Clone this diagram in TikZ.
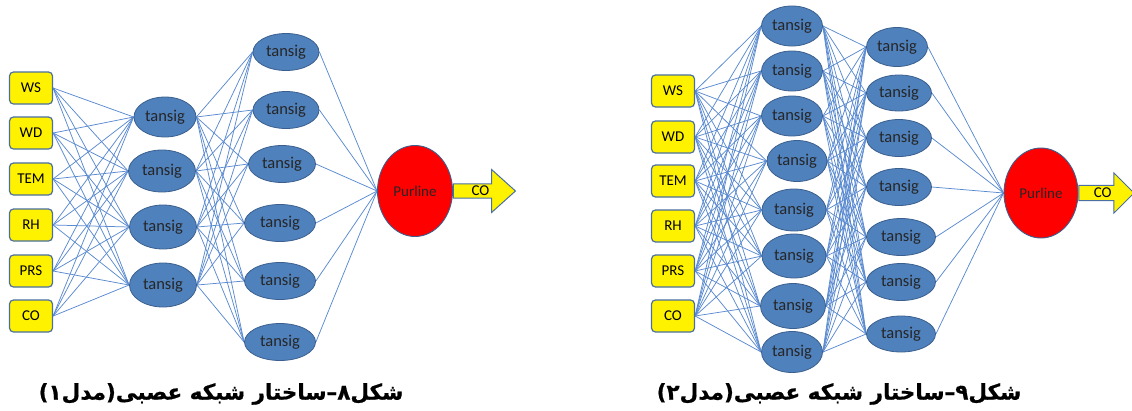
\documentclass[tikz,border=0pt]{standalone}
\usepackage{fontspec}
\setmainfont{Carlito}
\newfontfamily\fafont[Script=Arabic,FakeBold=0.8]{DejaVu Sans Bold}
\TeXXeTstate=1
\usetikzlibrary{shapes.geometric,shapes.arrows,backgrounds}
\definecolor{neuronfill}{HTML}{4F81BD}
\definecolor{neuronborder}{HTML}{3A5F8E}
\definecolor{boxborder}{HTML}{4A6FA0}
\definecolor{wirecol}{HTML}{5A8AD0}
\definecolor{purred}{HTML}{FF0000}
\tikzset{
  inbox/.style={draw=boxborder, fill=yellow, rounded corners=4pt, line width=1.2pt,
    minimum width=43pt, minimum height=32pt, inner sep=0pt, font=\fontsize{15}{15}\selectfont},
  neuron/.style={ellipse, draw=neuronborder, fill=neuronfill, line width=0.8pt,
    inner sep=0pt, font=\fontsize{16.5}{16.5}\selectfont, text=black!85},
  outnode/.style={ellipse, draw=neuronborder, fill=purred, line width=0.9pt,
    inner sep=0pt, font=\fontsize{15}{15}\selectfont, text=black!85},
  outarrow/.style={single arrow, draw=boxborder, fill=yellow, line width=1pt,
    inner sep=0pt, anchor=tail, font=\fontsize{15}{15}\selectfont},
  wire/.style={draw=wirecol, line width=0.75pt},
  caption/.style={font=\fafont\fontsize{21.5}{21.5}\selectfont, inner sep=0pt}
}
\begin{document}
\begin{tikzpicture}[x=1pt,y=-1pt]
\useasboundingbox (0,0) rectangle (1132,410);
% ---------------- Left network (model 1) ----------------
\node[inbox] (aWS)  at (31,88)  {WS};
\node[inbox] (aWD)  at (31,133) {WD};
\node[inbox] (aTEM) at (31,179) {TEM};
\node[inbox] (aRH)  at (31,225) {RH};
\node[inbox] (aPRS) at (31,271) {PRS};
\node[inbox] (aCO)  at (31,316) {CO};
\node[neuron, minimum width=62pt, minimum height=40pt] (ah1) at (165,117) {tansig};
\node[neuron, minimum width=67pt, minimum height=42pt] (ah2) at (162,171) {tansig};
\node[neuron, minimum width=67pt, minimum height=44pt] (ah3) at (163,227) {tansig};
\node[neuron, minimum width=67pt, minimum height=44pt] (ah4) at (163,285) {tansig};
\node[neuron, minimum width=66pt, minimum height=37pt] (ag1) at (286,52)  {tansig};
\node[neuron, minimum width=66pt, minimum height=37pt] (ag2) at (286,110) {tansig};
\node[neuron, minimum width=67pt, minimum height=37pt] (ag3) at (282,164) {tansig};
\node[neuron, minimum width=71pt, minimum height=37pt] (ag4) at (280,223) {tansig};
\node[neuron, minimum width=71pt, minimum height=37pt] (ag5) at (280,281) {tansig};
\node[neuron, minimum width=71pt, minimum height=37pt] (ag6) at (280,342) {tansig};
\node[outnode, minimum width=75pt, minimum height=91pt] (aout) at (415,191) {Purline};
\node[outarrow, minimum height=62pt, minimum width=43pt, single arrow head extend=11pt,
      single arrow tip angle=84] (aarr) at (aout.east) {CO\hspace{14pt}};
\begin{scope}[on background layer]
\foreach \i in {aWS,aWD,aTEM,aRH,aPRS,aCO}
  \foreach \j in {ah1,ah2,ah3,ah4}
    \draw[wire] (\i.east) -- (\j.west);
\foreach \i in {ah1,ah2,ah3,ah4}
  \foreach \j in {ag1,ag2,ag3,ag4,ag5,ag6}
    \draw[wire] (\i.east) -- (\j.west);
\foreach \i in {ag1,ag2,ag3,ag4,ag5,ag6}
  \draw[wire] (\i.east) -- (aout.west);
\end{scope}
\node[caption] (acap) at (221,394) {\beginR شکل۸–ساختار شبکه عصبی(مدل۱)\endR};
% ---------------- Right network (model 2) ----------------
\node[inbox] (bWS)  at (673,91)  {WS};
\node[inbox] (bWD)  at (673,137) {WD};
\node[inbox] (bTEM) at (673,181) {TEM};
\node[inbox] (bRH)  at (673,226) {RH};
\node[inbox] (bPRS) at (673,271) {PRS};
\node[inbox] (bCO)  at (673,316) {CO};
\node[neuron, minimum width=61pt, minimum height=40pt] (bh1) at (792,26)  {tansig};
\node[neuron, minimum width=61pt, minimum height=40pt] (bh2) at (792,71)  {tansig};
\node[neuron, minimum width=61pt, minimum height=40pt] (bh3) at (792,116) {tansig};
\node[neuron, minimum width=60pt, minimum height=41pt] (bh4) at (797,161) {tansig};
\node[neuron, minimum width=64pt, minimum height=42pt] (bh5) at (794,210) {tansig};
\node[neuron, minimum width=64pt, minimum height=44pt] (bh6) at (794,256) {tansig};
\node[neuron, minimum width=65pt, minimum height=45pt] (bh7) at (793,306) {tansig};
\node[neuron, minimum width=61pt, minimum height=41pt] (bh8) at (792,352) {tansig};
\node[neuron, minimum width=61pt, minimum height=39pt] (bg1) at (897,47)  {tansig};
\node[neuron, minimum width=65pt, minimum height=36pt] (bg2) at (899,93)  {tansig};
\node[neuron, minimum width=65pt, minimum height=37pt] (bg3) at (899,138) {tansig};
\node[neuron, minimum width=65pt, minimum height=37pt] (bg4) at (899,187) {tansig};
\node[neuron, minimum width=69pt, minimum height=37pt] (bg5) at (901,237) {tansig};
\node[neuron, minimum width=69pt, minimum height=37pt] (bg6) at (901,282) {tansig};
\node[neuron, minimum width=69pt, minimum height=36pt] (bg7) at (901,334) {tansig};
\node[outnode, minimum width=74pt, minimum height=90pt] (bout) at (1041,193) {Purline};
\node[outarrow, minimum height=55pt, minimum width=40pt, single arrow head extend=9pt,
      single arrow tip angle=90] (barr) at (bout.east) {CO\hspace{14pt}};
\begin{scope}[on background layer]
\foreach \i in {bWS,bWD,bTEM,bRH,bPRS,bCO}
  \foreach \j in {bh1,bh2,bh3,bh4,bh5,bh6,bh7,bh8}
    \draw[wire] (\i.east) -- (\j.west);
\foreach \i in {bh1,bh2,bh3,bh4,bh5,bh6,bh7,bh8}
  \foreach \j in {bg1,bg2,bg3,bg4,bg5,bg6,bg7}
    \draw[wire] (\i.east) -- (\j.west);
\foreach \i in {bg1,bg2,bg3,bg4,bg5,bg6,bg7}
  \draw[wire] (\i.east) -- (bout.west);
\end{scope}
\node[caption] (bcap) at (839,394) {\beginR شکل۹–ساختار شبکه عصبی(مدل۲)\endR};
\end{tikzpicture}
\end{document}
